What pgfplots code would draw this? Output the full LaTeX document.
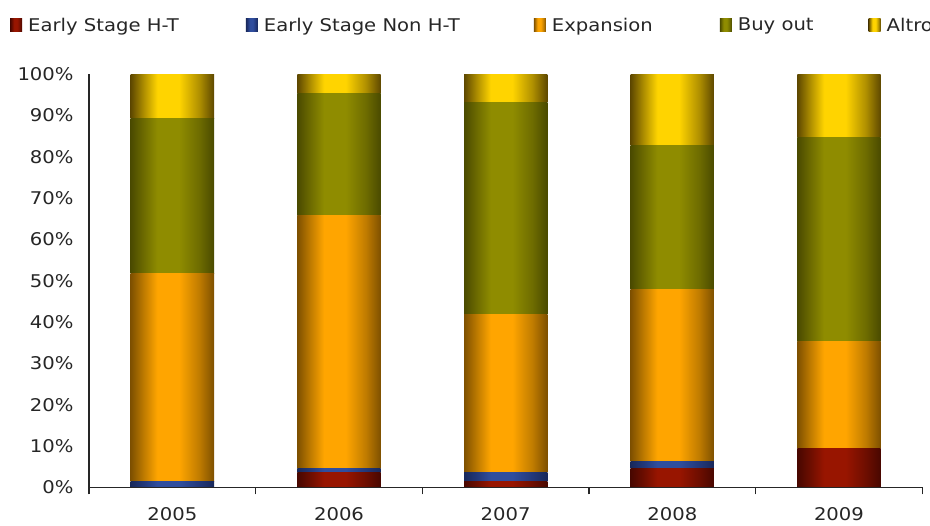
\documentclass[border=0pt]{standalone}
\usepackage{pgfplots}
\pgfplotsset{compat=1.18}
\usepackage{fontspec}
\setmainfont{DejaVu Sans}[FakeStretch=1.12]

\definecolor{rE}{HTML}{480700}
\definecolor{rM}{HTML}{6E0E00}
\definecolor{rB}{HTML}{981500}
\definecolor{bE}{HTML}{18285A}
\definecolor{bM}{HTML}{22387A}
\definecolor{bB}{HTML}{304E9E}
\definecolor{oE}{HTML}{7E5000}
\definecolor{oM}{HTML}{C07C00}
\definecolor{oB}{HTML}{FFA500}
\definecolor{gE}{HTML}{4A4A00}
\definecolor{gM}{HTML}{6E6C00}
\definecolor{gB}{HTML}{8F8C00}
\definecolor{yE}{HTML}{5E4800}
\definecolor{yM}{HTML}{B09000}
\definecolor{yB}{HTML}{FFD400}

\pgfdeclarehorizontalshading{shRed}{100bp}{color(0bp)=(rE); color(25bp)=(rE); color(33bp)=(rM); color(41bp)=(rB); color(54bp)=(rB); color(66bp)=(rM); color(75bp)=(rE); color(100bp)=(rE)}
\pgfdeclarehorizontalshading{shBlue}{100bp}{color(0bp)=(bE); color(25bp)=(bE); color(33bp)=(bM); color(41bp)=(bB); color(54bp)=(bB); color(66bp)=(bM); color(75bp)=(bE); color(100bp)=(bE)}
\pgfdeclarehorizontalshading{shOrange}{100bp}{color(0bp)=(oE); color(25bp)=(oE); color(33bp)=(oM); color(41bp)=(oB); color(54bp)=(oB); color(66bp)=(oM); color(75bp)=(oE); color(100bp)=(oE)}
\pgfdeclarehorizontalshading{shOlive}{100bp}{color(0bp)=(gE); color(25bp)=(gE); color(33bp)=(gM); color(41bp)=(gB); color(54bp)=(gB); color(66bp)=(gM); color(75bp)=(gE); color(100bp)=(gE)}
\pgfdeclarehorizontalshading{shYellow}{100bp}{color(0bp)=(yE); color(25bp)=(yE); color(33bp)=(yM); color(41bp)=(yB); color(54bp)=(yB); color(66bp)=(yM); color(75bp)=(yE); color(100bp)=(yE)}

\pgfplotsset{
  base/.style={scale only axis, width=833pt, height=413.3pt,
    xmin=-0.5, xmax=4.5, ymin=0, ymax=100},
  bars/.style={base, hide axis, ybar stacked, bar width=0.5},
  sRed/.style={draw=none, shade, shading=shRed},
  sBlue/.style={draw=none, shade, shading=shBlue},
  sOrange/.style={draw=none, shade, shading=shOrange},
  sOlive/.style={draw=none, shade, shading=shOlive},
  sYellow/.style={draw=none, shade, shading=shYellow},
}

\begin{document}
\begin{tikzpicture}
% 2005
\begin{axis}[bars]
\addplot[sBlue]   coordinates {(0,1.5)};
\addplot[sOrange] coordinates {(0,50.2)};
\addplot[sOlive]  coordinates {(0,37.6)};
\addplot[sYellow] coordinates {(0,10.7)};
\end{axis}
% 2006
\begin{axis}[bars]
\addplot[sRed]    coordinates {(1,3.7)};
\addplot[sBlue]   coordinates {(1,1.0)};
\addplot[sOrange] coordinates {(1,61.2)};
\addplot[sOlive]  coordinates {(1,29.3)};
\addplot[sYellow] coordinates {(1,4.8)};
\end{axis}
% 2007
\begin{axis}[bars]
\addplot[sRed]    coordinates {(2,1.4)};
\addplot[sBlue]   coordinates {(2,2.2)};
\addplot[sOrange] coordinates {(2,38.2)};
\addplot[sOlive]  coordinates {(2,51.4)};
\addplot[sYellow] coordinates {(2,6.8)};
\end{axis}
% 2008
\begin{axis}[bars]
\addplot[sRed]    coordinates {(3,4.6)};
\addplot[sBlue]   coordinates {(3,1.7)};
\addplot[sOrange] coordinates {(3,41.5)};
\addplot[sOlive]  coordinates {(3,35.0)};
\addplot[sYellow] coordinates {(3,17.2)};
\end{axis}
% 2009
\begin{axis}[bars]
\addplot[sRed]    coordinates {(4,9.4)};
\addplot[sOrange] coordinates {(4,25.9)};
\addplot[sOlive]  coordinates {(4,49.4)};
\addplot[sYellow] coordinates {(4,15.3)};
\end{axis}
% axes, ticks, legend
\begin{axis}[
  base, name=ax,
  axis x line*=bottom, axis y line*=left,
  axis line style={line width=1.2pt, color=black!85},
  xtick={0,1,2,3,4},
  xticklabels={2005,2006,2007,2008,2009},
  minor xtick={-0.5,0.5,1.5,2.5,3.5,4.5},
  minor tick length=7pt,
  tick align=outside,
  minor x tick style={line width=1.2pt, color=black!85},
  major x tick style={draw=none},
  ytick={0,10,...,100},
  yticklabels={0\%,10\%,20\%,30\%,40\%,50\%,60\%,70\%,80\%,90\%,100\%},
  y tick style={draw=none},
  /pgf/number format/assume math mode=true,
  tick label style={font=\fontsize{17.5}{20}\selectfont, color=black!85},
  yticklabel style={anchor=east, inner sep=0pt, xshift=-11pt},
  xticklabel style={anchor=north, inner sep=0pt, yshift=-16pt},
  legend columns=5,
  legend style={draw=none, fill=none, at={(-0.0948,1.118)}, anchor=west,
    inner sep=0pt, font=\fontsize{17.5}{20}\selectfont, text=black!85,
    /tikz/every odd column/.append style={column sep=4pt},
    /tikz/every even column/.append style={column sep=63pt}},
  legend image code/.code={\path[#1] (0pt,-6.5pt) rectangle (12pt,6.5pt);},
]
\addlegendimage{sRed}
\addlegendimage{sBlue}
\addlegendimage{sOrange}
\addlegendimage{sOlive}
\addlegendimage{sYellow}
\legend{Early Stage H-T\hspace*{2pt}, Early Stage Non H-T\hspace*{9pt}, Expansion\hspace*{2pt}, Buy out\hspace*{-10pt}, Altro}
\end{axis}
\pgfresetboundingbox
\path[use as bounding box] ([xshift=-89pt,yshift=-37.7pt]ax.south west) rectangle ([xshift=7.7pt,yshift=74pt]ax.north east);
\end{tikzpicture}
\end{document}
